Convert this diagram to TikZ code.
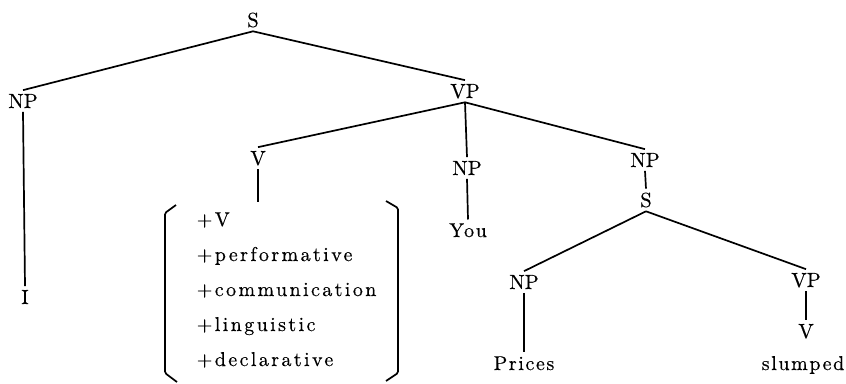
\documentclass[tikz,border=0pt]{standalone}
\usepackage{fontspec}
% slightly heavier roman; letter-spaced cuts for the lower-case words
\newfontfamily\labfont{lmroman10-regular.otf}[FakeBold=0.4]
\newfontfamily\spaced{lmroman10-regular.otf}[LetterSpace=12,FakeBold=0.4]
\newfontfamily\lspaced{lmroman10-regular.otf}[LetterSpace=8,FakeBold=0.4]
\begin{document}
\begin{tikzpicture}[x=1pt,y=-1pt,
  line width=1.7pt,
  lbl/.style={font=\labfont\fontsize{20.5}{24}\selectfont, inner sep=3pt, anchor=base},
  word/.style={font=\lspaced\fontsize{20}{24}\selectfont, inner sep=3pt, anchor=base},
  feat/.style={font=\spaced\fontsize{20}{24}\selectfont, inner sep=0pt, anchor=base west},
  bracket/.style={line width=1.7pt, rounded corners=1.5pt}]
\useasboundingbox (0,0) rectangle (846,383);

% upper tree
\node[lbl] (S)   at (253,27)  {S};
\node[lbl] (NPa) at (23,108)  {NP};
\node[lbl] (I)   at (25,304)  {I};
\node[lbl] (VP)  at (465,98)  {VP};
\node[lbl] (V)   at (258,165) {V};
\node[lbl] (NPb) at (467,175) {NP};
\node[word] (You) at (468,237) {You};
\node[lbl] (NPc) at (645,167) {NP};

% embedded clause
\node[lbl] (S2)  at (646,207) {S};
\node[lbl] (NPd) at (524,289) {NP};
\node[lbl] (VP2) at (806,287) {VP};
\node[lbl] (V2)  at (806,338) {V};
\node[word] (Prices)  at (524,370) {Prices};
\node[word] (slumped) at (803,370) {slumped};

% feature matrix of the performative verb
\node[feat] (f1) at (196,226) {+V};
\node[feat] (f2) at (196,261) {+performative};
\node[feat] (f3) at (196,296) {+communication};
\node[feat] (f4) at (196,331) {+linguistic};
\node[feat] (f5) at (196,366) {+declarative};
\coordinate (mtop) at (258,202);

\draw[bracket] (176,205) -- (165,213) -- (165,373) -- (177,382);
\draw[bracket] (386,201) -- (398,208) -- (398,373) -- (386,381);

% branches
\draw (S.south) -- (NPa.north);
\draw (S.south) -- (VP.north);
\draw (NPa.south) -- (I.north);
\draw (VP.south) -- (V.north);
\draw (VP.south) -- (NPb.north);
\draw (VP.south) -- (NPc.north);
\draw (NPb.south) -- (You.north);
\draw (V.south) -- (mtop);
\draw (NPc.south) -- (S2.north);
\draw (S2.south) -- (NPd.north);
\draw (S2.south) -- (VP2.north);
\draw (NPd.south) -- (Prices.north);
\draw (VP2.south) -- (V2.north);
\end{tikzpicture}
\end{document}
